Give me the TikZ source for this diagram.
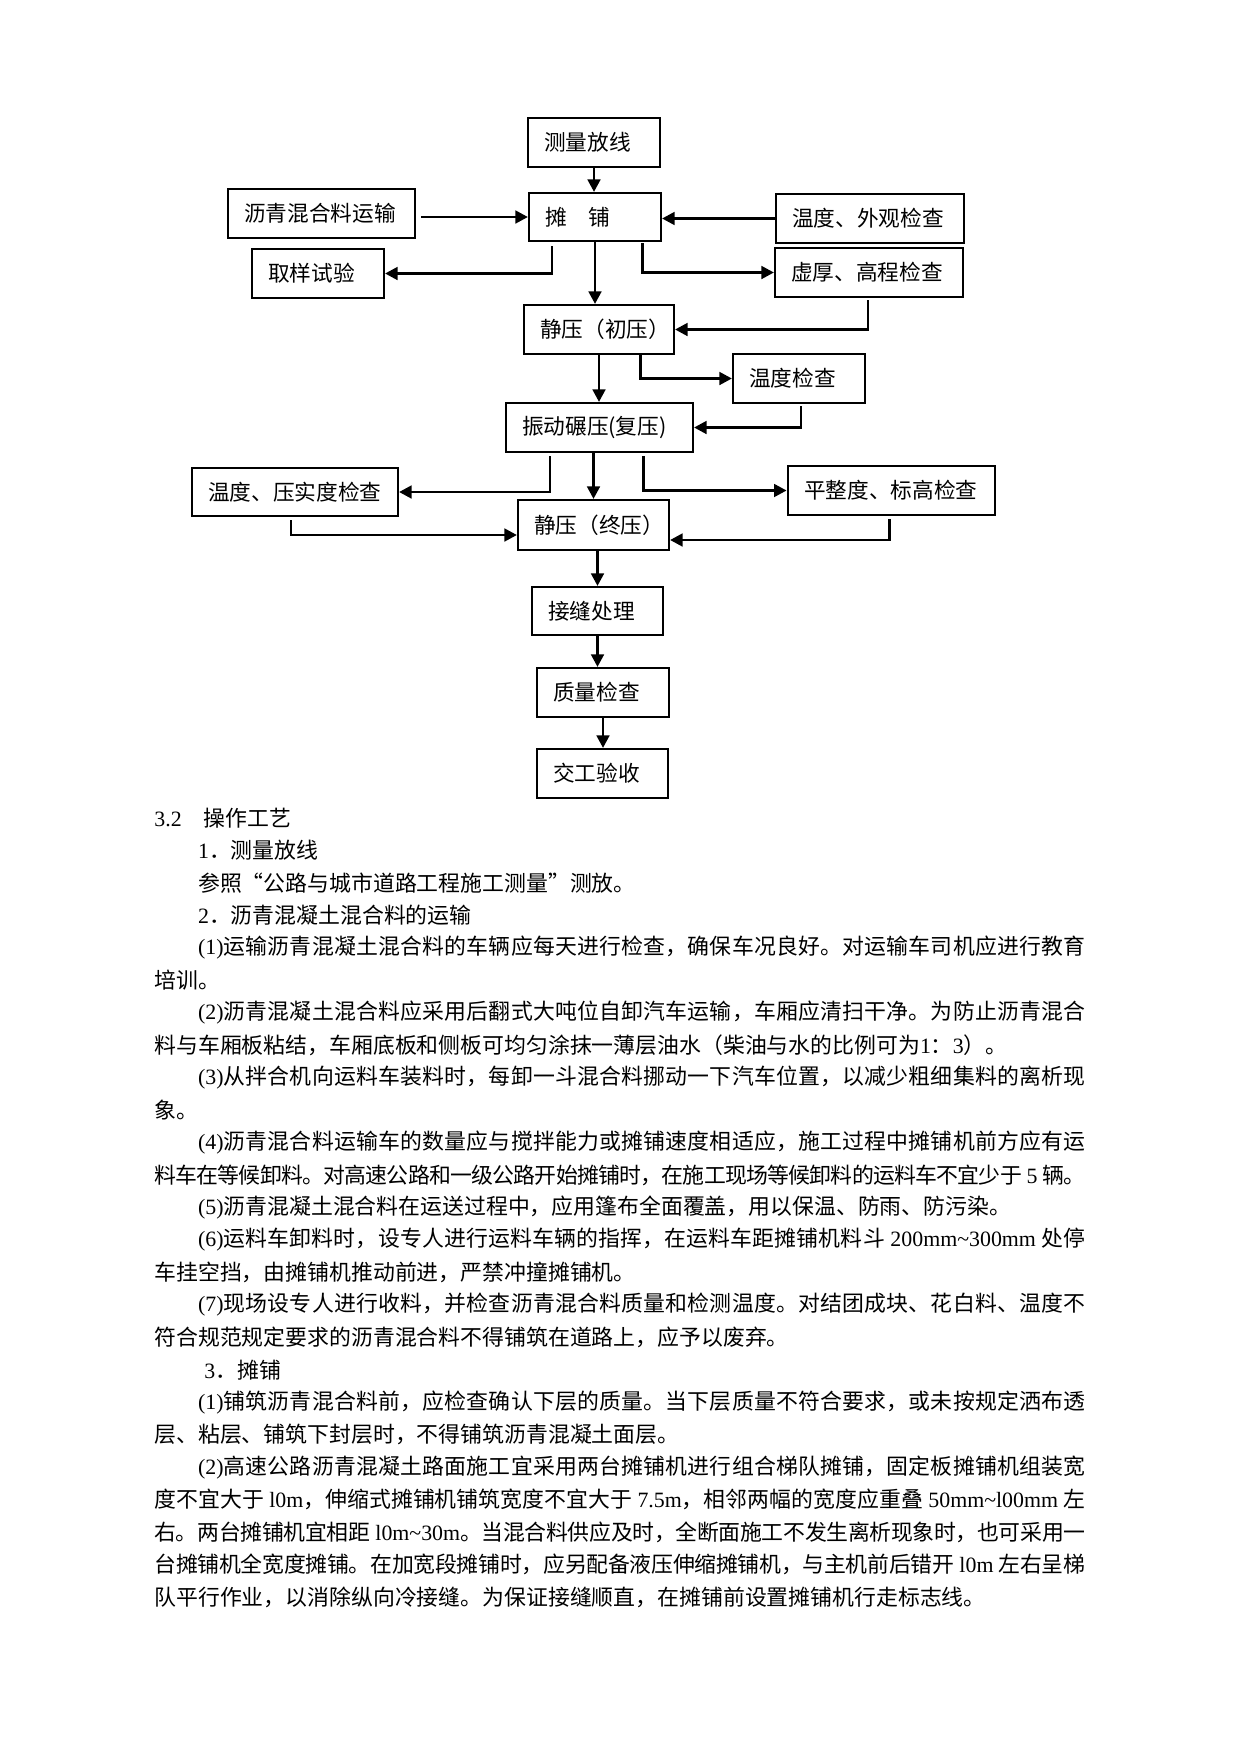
\documentclass[tikz,border=0pt]{standalone}
\usepackage{fontspec}
\setmainfont{Liberation Serif}
\newfontfamily\cjk{Noto Sans CJK SC}
\usetikzlibrary{arrows.meta}
% character classes for justification between CJK characters
\newcount\cjkc
\def\setcls#1#2{\cjkc=#1\relax\loop\XeTeXcharclass\cjkc=1\relax\advance\cjkc by 1\relax\ifnum\cjkc<#2\relax\repeat}
\setcls{"4E00}{"A000}
\setcls{"3000}{"3040}
\setcls{"FF00}{"FFF0}
\setcls{"2018}{"2020}
\XeTeXinterchartoks 1 1 = {\hskip 0pt plus 3pt minus 1pt\relax}
\XeTeXinterchartoks 0 1 = {\hskip 0pt plus 3pt minus 1pt\relax}
\XeTeXinterchartoks 1 0 = {\hskip 0pt plus 3pt minus 1pt\relax}
\newcommand\La[1]{{\rmfamily #1}}
\newcommand\JL[1]{\hbox to 446.9pt{\XeTeXinterchartokenstate=1 #1}}
\newcommand\NL[1]{\hbox{#1}}
\newcommand\ind{\hskip 21pt\relax}
\tikzset{
  bx/.style={draw, line width=1pt, inner xsep=7.68pt, inner ysep=0pt, align=left,
    font=\cjk\fontsize{10.4pt}{12pt}\selectfont},
  arr/.style={line width=1.4pt, -{Triangle[length=6pt,width=6pt]}},
  tl/.style={anchor=west, inner sep=0pt, font=\cjk\fontsize{10.5pt}{12pt}\selectfont}
}
\begin{document}
\begin{tikzpicture}[x=0.48pt,y=-0.48pt]
\useasboundingbox (0,0) rectangle (1241,1754);
\fill[white] (0,0) rectangle (1241,1754);
% ---------- flow chart boxes ----------
\node[bx, text width=48pt,    minimum height=23.52pt] (cl)  at (594,142.5)   {测量放线};
\node[bx, text width=48pt,    minimum height=23.04pt] (tp)  at (595,217)     {摊\hspace{1em}铺};
\node[bx, text width=74.4pt,  minimum height=23.52pt] (ys)  at (321.5,213.5) {沥青混合料运输};
\node[bx, text width=74.88pt, minimum height=23.52pt, line width=1.3pt] (wg)  at (870,218.5) {温度、外观检查};
\node[bx, text width=48pt,    minimum height=23.52pt] (qy)  at (318,273.5)   {取样试验};
\node[bx, text width=74.88pt, minimum height=23.52pt] (xh)  at (869,272.5)   {虚厚、高程检查};
\node[bx, text width=56.64pt, minimum height=23.52pt] (jc)  at (599,329.5)   {静压（初压）};
\node[bx, text width=48pt,    minimum height=23.52pt] (wd)  at (799,378.5)   {温度检查};
\node[bx, text width=74.4pt,  minimum height=23.52pt] (zd)  at (599.5,427.5) {振动碾压(复压)};
\node[bx, text width=83.52pt, minimum height=23.04pt] (ys2) at (295,492)     {温度、压实度检查};
\node[bx, text width=84pt,    minimum height=23.52pt, line width=1.3pt] (pz)  at (891.5,490.5) {平整度、标高检查};
\node[bx, text width=57.12pt, minimum height=24pt]    (jz)  at (593.5,525)   {静压（终压）};
\node[bx, text width=47.52pt, minimum height=23.04pt] (jf)  at (597.5,611)   {接缝处理};
\node[bx, text width=48pt,    minimum height=23.52pt] (zl)  at (603,692.5)   {质量检查};
\node[bx, text width=47.52pt, minimum height=23.52pt] (jg)  at (602.5,773.5) {交工验收};
% ---------- connectors ----------
\draw[arr] (cl.south) -- (cl.south |- tp.north);
\path (ys.east |- tp.west) ++(5,0) coordinate (ysa);
\draw[arr] (ysa) -- (tp.west);
\draw[arr] (wg.west) -- (wg.west -| tp.east);
\draw[arr] (tp.south west) ++(24,4) |- (qy.east);
\draw[arr] (tp.south east) ++(-20,1) |- (xh.west);
\draw[arr] (tp.south) -- (tp.south |- jc.north);
\draw[arr] (xh.south) ++(-1,2) |- (jc.east);
\draw[arr] (jc.south) -- (jc.south |- zd.north);
\draw[arr] (jc.south east) ++(-35,0) |- (wd.west);
\draw[arr] (wd.south) ++(2,2) |- (zd.east);
\draw[arr] (zd.south west) ++(45,3) |- (ys2.east);
\draw[arr] (zd.south east) ++(-51,3) |- (pz.west);
\draw[arr] (zd.south -| jz.north) -- (jz.north);
\draw[arr] (ys2.south) ++(-4,3) |- ([yshift=-4.8pt]jz.west);
\draw[arr] (pz.south) ++(-2,3) |- ([yshift=-7.2pt]jz.east);
\draw[arr] (jz.south -| jf.north) -- (jf.north);
\draw[arr] (jf.south) -- (jf.south |- zl.north);
\draw[arr] (zl.south) -- (zl.south |- jg.north);
% ---------- body text ----------
\node[tl] (t0)  at (154,818)    {\NL{\La{3.2}\hspace{1em}操作工艺}};
\node[tl] (t1)  at (154,850.5)  {\NL{\ind\La{1}．测量放线}};
\node[tl] (t2)  at (154,882.9)  {\NL{\ind 参照“公路与城市道路工程施工测量”测放。}};
\node[tl] (t3)  at (154,915.4)  {\NL{\ind\La{2}．沥青混凝土混合料的运输}};
\node[tl] (t4)  at (154,947.8)  {\JL{\ind\La{(1)}运输沥青混凝土混合料的车辆应每天进行检查，确保车况良好。对运输车司机应进行教育}};
\node[tl] (t5)  at (154,980.3)  {\NL{培训。}};
\node[tl] (t6)  at (154,1012.8) {\JL{\ind\La{(2)}沥青混凝土混合料应采用后翻式大吨位自卸汽车运输，车厢应清扫干净。为防止沥青混合}};
\node[tl] (t7)  at (154,1045.2) {\NL{料与车厢板粘结，车厢底板和侧板可均匀涂抹一薄层油水（柴油与水的比例可为\La{1}：\La{3}）。}};
\node[tl] (t8)  at (154,1077.7) {\JL{\ind\La{(3)}从拌合机向运料车装料时，每卸一斗混合料挪动一下汽车位置，以减少粗细集料的离析现}};
\node[tl] (t9)  at (154,1110.1) {\NL{象。}};
\node[tl] (t10) at (154,1142.6) {\JL{\ind\La{(4)}沥青混合料运输车的数量应与搅拌能力或摊铺速度相适应，施工过程中摊铺机前方应有运}};
\node[tl] (t11) at (154,1175.1) {\JL{料车在等候卸料。对高速公路和一级公路开始摊铺时，在施工现场等候卸料的运料车不宜少于\La{ 5 }辆。}};
\node[tl] (t12) at (154,1207.5) {\NL{\ind\La{(5)}沥青混凝土混合料在运送过程中，应用篷布全面覆盖，用以保温、防雨、防污染。}};
\node[tl] (t13) at (154,1240)   {\JL{\ind\La{(6)}运料车卸料时，设专人进行运料车辆的指挥，在运料车距摊铺机料斗\La{ 200mm\textasciitilde300mm }处停}};
\node[tl] (t14) at (154,1272.4) {\NL{车挂空挡，由摊铺机推动前进，严禁冲撞摊铺机。}};
\node[tl] (t15) at (154,1304.9) {\JL{\ind\La{(7)}现场设专人进行收料，并检查沥青混合料质量和检测温度。对结团成块、花白料、温度不}};
\node[tl] (t16) at (154,1337.4) {\NL{符合规范规定要求的沥青混合料不得铺筑在道路上，应予以废弃。}};
\node[tl] (t17) at (154,1369.8) {\NL{\hskip 24pt\La{3}．摊铺}};
\node[tl] (t18) at (154,1402.3) {\JL{\ind\La{(1)}铺筑沥青混合料前，应检查确认下层的质量。当下层质量不符合要求，或未按规定洒布透}};
\node[tl] (t19) at (154,1434.7) {\NL{层、粘层、铺筑下封层时，不得铺筑沥青混凝土面层。}};
\node[tl] (t20) at (154,1467.2) {\JL{\ind\La{(2)}高速公路沥青混凝土路面施工宜采用两台摊铺机进行组合梯队摊铺，固定板摊铺机组装宽}};
\node[tl] (t21) at (154,1499.7) {\JL{度不宜大于\La{ l0m}，伸缩式摊铺机铺筑宽度不宜大于\La{ 7.5m}，相邻两幅的宽度应重叠\La{ 50mm\textasciitilde l00mm }左}};
\node[tl] (t22) at (154,1532.1) {\JL{右。两台摊铺机宜相距\La{ l0m\textasciitilde30m}。当混合料供应及时，全断面施工不发生离析现象时，也可采用一}};
\node[tl] (t23) at (154,1564.6) {\JL{台摊铺机全宽度摊铺。在加宽段摊铺时，应另配备液压伸缩摊铺机，与主机前后错开\La{ l0m }左右呈梯}};
\node[tl] (t24) at (154,1597)   {\NL{队平行作业，以消除纵向冷接缝。为保证接缝顺直，在摊铺前设置摊铺机行走标志线。}};
\end{tikzpicture}
\end{document}
